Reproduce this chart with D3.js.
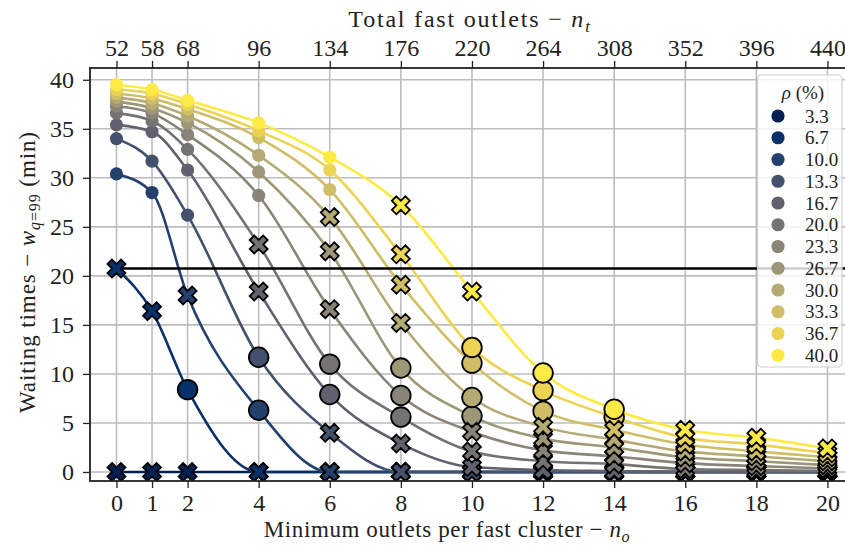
<!DOCTYPE html>
<html><head><meta charset="utf-8">
<script src="https://cdn.jsdelivr.net/npm/d3@7"></script>
<style>
html,body{margin:0;padding:0;background:#fff;}
svg{display:block;}
text{font-family:"Liberation Serif","Times New Roman",serif;fill:#222;}
</style></head>
<body>
<svg id="chart" width="845" height="546"></svg>
<script>
// ---- data ----
const noTicks = [0, 1, 2, 4, 6, 8, 10, 12, 14, 16, 18, 20];       // minimum outlets per fast cluster
const ntTicks = [52, 58, 68, 96, 134, 176, 220, 264, 308, 352, 396, 440]; // total fast outlets
const yTicks = [0, 5, 10, 15, 20, 25, 30, 35, 40];
const rhoLabels = ["3.3", "6.7", "10.0", "13.3", "16.7", "20.0", "23.3", "26.7", "30.0", "33.3", "36.7", "40.0"];
const threshold = 20.75;

const w3_3  = [0, 0, 0, 0, 0, 0, 0, 0, 0, 0, 0, 0];
const w6_7  = [20.75, 16.4, 8.4, 0, 0, 0, 0, 0, 0, 0, 0, 0];
const w10_0 = [30.4, 28.5, 18.0, 6.3, 0, 0, 0, 0, 0, 0, 0, 0];
const w13_3 = [34.0, 31.7, 26.2, 11.7, 4.0, 0, 0, 0, 0, 0, 0, 0];
const w16_7 = [35.4, 34.7, 30.8, 18.4, 7.9, 2.9, 0.5, 0.2, 0.1, 0, 0, 0];
const w20_0 = [36.6, 35.8, 32.9, 23.2, 11.0, 5.6, 2.1, 1.1, 0.8, 0.3, 0.2, 0.1];
const w23_3 = [37.3, 36.6, 34.4, 28.2, 16.6, 7.8, 4.1, 2.2, 1.6, 0.9, 0.6, 0.35];
const w26_7 = [37.8, 37.1, 35.6, 30.6, 22.5, 10.6, 5.7, 3.4, 2.5, 1.5, 1.1, 0.7];
const w30_0 = [38.2, 37.6, 36.3, 32.3, 26.0, 15.2, 7.6, 4.6, 3.3, 2.1, 1.6, 1.1];
const w33_3 = [38.6, 38.1, 37.0, 34.1, 28.8, 19.1, 11.1, 6.2, 4.3, 2.8, 2.1, 1.5];
const w36_7 = [39.0, 38.6, 37.5, 34.8, 30.8, 22.2, 12.7, 8.3, 5.6, 3.5, 2.8, 1.9];
const w40_0 = [39.5, 39.0, 37.9, 35.6, 32.1, 27.2, 18.4, 10.1, 6.4, 4.3, 3.5, 2.4];

// marker kind per point: o = plain dot, O = ringed circle, x = filled X
const m3_3  = "xxxxxxxxxxxx";
const m6_7  = "xxOxxxxxxxxx";
const m10_0 = "ooxOxxxxxxxx";
const m13_3 = "oooOxxxxxxxx";
const m16_7 = "oooxOxxxxxxx";
const m20_0 = "oooxOOxxxxxx";
const m23_3 = "ooooxOxxxxxx";
const m26_7 = "ooooxOOxxxxx";
const m30_0 = "ooooxxOxxxxx";
const m33_3 = "oooooxOOxxxx";
const m36_7 = "oooooxOOOxxx";
const m40_0 = "oooooxxOOxxx";

const seriesValues = [w3_3, w6_7, w10_0, w13_3, w16_7, w20_0, w23_3, w26_7, w30_0, w33_3, w36_7, w40_0];
const seriesMarks  = [m3_3, m6_7, m10_0, m13_3, m16_7, m20_0, m23_3, m26_7, m30_0, m33_3, m36_7, m40_0];

// ---- layout ----
const L = 90, R = 847, T = 68, B = 481;
const svg = d3.select("#chart");
const x = d3.scaleLinear().domain([-0.745, 20.55]).range([L, R]);
const y = d3.scaleLinear().domain([-0.92, 41.2]).range([B, T]);
const color = i => d3.interpolateCividis(i / (rhoLabels.length - 1));

const series = seriesValues.map((vals, i) => ({
  i, label: rhoLabels[i], color: color(i),
  pts: vals.map((v, j) => ({x: noTicks[j], y: v, m: seriesMarks[i][j]}))
}));

// grid
const grid = svg.append("g").attr("stroke", "#bdbdbd").attr("stroke-width", 1.6);
noTicks.forEach(t => grid.append("line").attr("x1", x(t)).attr("x2", x(t)).attr("y1", T).attr("y2", B));
yTicks.forEach(t => grid.append("line").attr("x1", L).attr("x2", R).attr("y1", y(t)).attr("y2", y(t)));

// axes
const fs = 24;
function styleAxis(g) {
  g.select(".domain").remove();
  g.attr("font-family", null);
  g.selectAll(".tick line").attr("stroke", "#222").attr("stroke-width", 1.3);
  g.selectAll(".tick text").attr("font-size", fs).attr("fill", "#222");
}
svg.append("g").attr("transform", `translate(0,${B})`)
  .call(d3.axisBottom(x).tickValues(noTicks).tickSize(7).tickPadding(6).tickFormat(d3.format("d")))
  .call(styleAxis);
svg.append("g").attr("transform", `translate(0,${T})`)
  .call(d3.axisTop(x).tickValues(noTicks).tickSize(7).tickPadding(5).tickFormat((d, i) => ntTicks[i]))
  .call(styleAxis);
svg.append("g").attr("transform", `translate(${L},0)`)
  .call(d3.axisLeft(y).tickValues(yTicks).tickSize(7).tickPadding(9).tickFormat(d3.format("d")))
  .call(styleAxis);

// clip
svg.append("clipPath").attr("id", "clip").append("rect").attr("x", L).attr("y", T).attr("width", R - L).attr("height", B - T);
const plot = svg.append("g").attr("clip-path", "url(#clip)");

const line = d3.line().x(d => x(d.x)).y(d => y(d.y)).curve(d3.curveMonotoneX);

// lines
series.forEach(s => {
  plot.append("path").attr("d", line(s.pts)).attr("fill", "none")
    .attr("stroke", s.color).attr("stroke-width", 2.6).attr("stroke-linejoin", "round");
});
// threshold line
plot.append("line").attr("x1", x(0)).attr("x2", R).attr("y1", y(threshold)).attr("y2", y(threshold))
  .attr("stroke", "#000").attr("stroke-width", 2.4);

// plain dots
series.forEach(s => {
  s.pts.filter(p => p.m === "o").forEach(p => {
    plot.append("circle").attr("cx", x(p.x)).attr("cy", y(p.y)).attr("r", 6.6).attr("fill", s.color);
  });
});
// X marker path (matplotlib 'X')
const xs = 4.5;
const xVerts = [[-1,-2],[0,-1],[1,-2],[2,-1],[1,0],[2,1],[1,2],[0,1],[-1,2],[-2,1],[-1,0],[-2,-1]];
const xPath = "M" + xVerts.map(v => `${v[0]*xs},${v[1]*xs}`).join("L") + "Z";
series.forEach(s => {
  s.pts.filter(p => p.m === "O").forEach(p => {
    plot.append("circle").attr("cx", x(p.x)).attr("cy", y(p.y)).attr("r", 9.8)
      .attr("fill", s.color).attr("stroke", "#000").attr("stroke-width", 1.8);
  });
});
series.forEach(s => {
  s.pts.filter(p => p.m === "x").forEach(p => {
    plot.append("path").attr("d", xPath).attr("transform", `translate(${x(p.x)},${y(p.y)})`)
      .attr("fill", s.color).attr("stroke", "#000").attr("stroke-width", 1.8).attr("stroke-linejoin", "miter");
  });
});

// frame
svg.append("rect").attr("x", L).attr("y", T).attr("width", R - L).attr("height", B - T)
  .attr("fill", "none").attr("stroke", "#222").attr("stroke-width", 1.8);

// axis labels
const topLabel = svg.append("text").attr("x", 470).attr("y", 27).attr("text-anchor", "middle")
  .attr("font-size", 24).attr("letter-spacing", 1.8);
topLabel.append("tspan").text("Total fast outlets \u2212 ");
topLabel.append("tspan").attr("font-style", "italic").text("n");
topLabel.append("tspan").attr("font-style", "italic").attr("font-size", 17).attr("dy", 5).text("t");

const botLabel = svg.append("text").attr("x", 447).attr("y", 537).attr("text-anchor", "middle")
  .attr("font-size", 23).attr("letter-spacing", 0.6);
botLabel.append("tspan").text("Minimum outlets per fast cluster \u2212 ");
botLabel.append("tspan").attr("font-style", "italic").text("n");
botLabel.append("tspan").attr("font-style", "italic").attr("font-size", 16).attr("dy", 5).text("o");

const yLabel = svg.append("text").attr("transform", "translate(35,272) rotate(-90)").attr("text-anchor", "middle")
  .attr("font-size", 23).attr("letter-spacing", 0.9);
yLabel.append("tspan").text("Waiting times \u2212 ");
yLabel.append("tspan").attr("font-style", "italic").text("w");
yLabel.append("tspan").attr("font-style", "italic").attr("font-size", 16).attr("dy", 5).text("q");
yLabel.append("tspan").attr("font-size", 16).text("=99");
yLabel.append("tspan").attr("dy", -5).text(" (min)");

// legend
const lg = svg.append("g");
lg.append("rect").attr("x", 757.5).attr("y", 75).attr("width", 84.5).attr("height", 292).attr("rx", 4)
  .attr("fill", "#fff").attr("fill-opacity", 0.8).attr("stroke", "#cfcfcf").attr("stroke-width", 1.2);
const lt = lg.append("text").attr("x", 803).attr("y", 99).attr("text-anchor", "middle").attr("font-size", 19);
lt.append("tspan").attr("font-style", "italic").text("\u03c1");
lt.append("tspan").text(" (%)");
series.forEach((s, k) => {
  const cy = 116 + k * 21.75;
  lg.append("circle").attr("cx", 778).attr("cy", cy).attr("r", 6.6).attr("fill", s.color);
  lg.append("text").attr("x", 805).attr("y", cy + 6.5).attr("font-size", 19).text(s.label);
});
</script>
</body></html>
